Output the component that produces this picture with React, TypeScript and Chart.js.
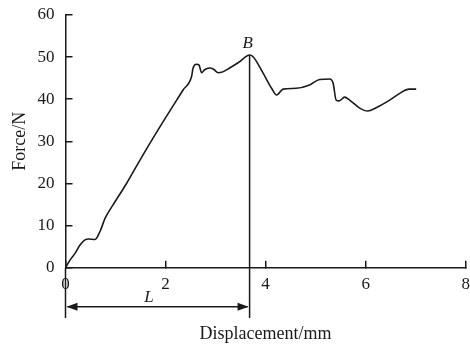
import React, { useEffect, useRef } from "react";
import { Chart, registerables } from "chart.js";

Chart.register(...registerables);

const displacement = [0, 0.09, 0.19, 0.29, 0.39, 0.46, 0.59, 0.69, 0.79, 0.95, 1.22, 1.55, 1.89, 2.35, 2.52, 2.55, 2.62, 2.67, 2.72, 2.78, 2.88, 2.96, 3.05, 3.12, 3.28, 3.48, 3.68, 3.75, 3.95, 4.12, 4.22, 4.35, 4.61, 4.88, 5.08, 5.28, 5.35, 5.41, 5.47, 5.58, 5.68, 5.88, 6.04, 6.21, 6.48, 6.68, 6.87, 7.01];
const force = [0, 1.8, 3.4, 5.4, 6.6, 6.8, 6.7, 8.6, 11.7, 14.9, 20.0, 26.8, 33.5, 42.2, 45.4, 47.4, 48.3, 48.1, 46.3, 47, 47.4, 47.1, 46.3, 46.4, 47.4, 48.9, 50.5, 50.1, 46.2, 42.6, 41, 42.4, 42.6, 43.4, 44.7, 44.8, 43.8, 39.8, 39.6, 40.5, 39.8, 37.9, 37.2, 38, 39.8, 41.4, 42.4, 42.4];

const peakX = 3.68;
const peakY = 50.5;
const markerBottomY = -11.95;
const arrowY = -9.3;
const labelLY = -7;
const labelLX = 1.67;

const xTicks = [0, 2, 4, 6, 8];
const yTicks = [0, 10, 20, 30, 40, 50, 60];

const INK = "#1a1a1a";
const SERIF = "'Liberation Serif', 'DejaVu Serif', serif";

const annotPlugin = {
  id: "annot",
  afterDraw(chart: any) {
    const { ctx, scales } = chart;
    const xs = scales.x;
    const ys = scales.y;
    ctx.save();
    ctx.fillStyle = INK;
    ctx.strokeStyle = INK;
    ctx.font = `italic 17px ${SERIF}`;
    ctx.textAlign = "center";
    ctx.textBaseline = "bottom";
    ctx.fillText("B", xs.getPixelForValue(peakX) - 2, ys.getPixelForValue(peakY) - 3);
    ctx.textBaseline = "middle";
    ctx.fillText("L", xs.getPixelForValue(labelLX), ys.getPixelForValue(labelLY));
    const x0 = xs.getPixelForValue(0);
    const x1 = xs.getPixelForValue(peakX);
    const ay = ys.getPixelForValue(arrowY);
    ctx.lineWidth = 1.5;
    ctx.beginPath();
    ctx.moveTo(x0 + 2, ay);
    ctx.lineTo(x1 - 2, ay);
    ctx.stroke();
    const head = 11;
    const hw = 4;
    ctx.beginPath();
    ctx.moveTo(x0 + 1, ay);
    ctx.lineTo(x0 + 1 + head, ay - hw);
    ctx.lineTo(x0 + 1 + head, ay + hw);
    ctx.closePath();
    ctx.fill();
    ctx.beginPath();
    ctx.moveTo(x1 - 1, ay);
    ctx.lineTo(x1 - 1 - head, ay - hw);
    ctx.lineTo(x1 - 1 - head, ay + hw);
    ctx.closePath();
    ctx.fill();
    ctx.restore();
  },
};

export default function App() {
  const ref = useRef<HTMLCanvasElement>(null);
  useEffect(() => {
    document.body.style.margin = "0";
    const chart = new Chart(ref.current as HTMLCanvasElement, {
      type: "line",
      data: {
        datasets: [
          {
            data: displacement.map((d, i) => ({ x: d, y: force[i] })),
            borderColor: INK,
            borderWidth: 1.6,
            pointRadius: 0,
            cubicInterpolationMode: "monotone",
            fill: false,
          },
          {
            data: [
              { x: peakX, y: peakY },
              { x: peakX, y: markerBottomY },
            ],
            borderColor: INK,
            borderWidth: 1.5,
            pointRadius: 0,
            clip: false as any,
          },
          {
            data: [
              { x: 0, y: 0 },
              { x: 0, y: markerBottomY },
            ],
            borderColor: INK,
            borderWidth: 1.5,
            pointRadius: 0,
            clip: false as any,
          },
        ],
      },
      options: {
        animation: false,
        responsive: false,
        maintainAspectRatio: false,
        layout: { padding: { top: 15, right: 4.3, left: 0, bottom: 0 } },
        plugins: { legend: { display: false }, tooltip: { enabled: false } },
        scales: {
          x: {
            type: "linear",
            min: 0,
            max: 8,
            afterBuildTicks(scale: any) {
              scale.ticks = xTicks.map((v) => ({ value: v }));
            },
            afterFit(scale: any) {
              scale.height = 79.3;
              scale.paddingLeft = 0;
              scale.paddingRight = 0;
            },
            grid: { drawOnChartArea: false, drawTicks: true, tickLength: -7, color: INK, lineWidth: 1.5 },
            border: { display: true, color: INK, width: 1.5 },
            ticks: { padding: 14, color: INK, font: { family: SERIF, size: 17 }, maxRotation: 0 },
            title: { display: true, text: "Displacement/mm", color: INK, font: { family: SERIF, size: 18 }, padding: { top: 0, bottom: 2 } },
          },
          y: {
            type: "linear",
            min: 0,
            max: 60,
            afterBuildTicks(scale: any) {
              scale.ticks = yTicks.map((v) => ({ value: v }));
            },
            afterFit(scale: any) {
              scale.width = 65.5;
              scale.paddingTop = 0;
              scale.paddingBottom = 0;
            },
            grid: { drawOnChartArea: false, drawTicks: true, tickLength: -7, color: INK, lineWidth: 1.5 },
            border: { display: true, color: INK, width: 1.5 },
            ticks: { padding: 18, color: INK, font: { family: SERIF, size: 17 } },
            title: { display: true, text: "Force/N", color: INK, font: { family: SERIF, size: 18 }, padding: { top: 9, bottom: 0 } },
          },
        },
      },
      plugins: [annotPlugin],
    });
    return () => chart.destroy();
  }, []);
  return (
    <div style={{ width: 470, height: 347 }}>
      <canvas ref={ref} width={470} height={347} style={{ display: "block" }} />
    </div>
  );
}
